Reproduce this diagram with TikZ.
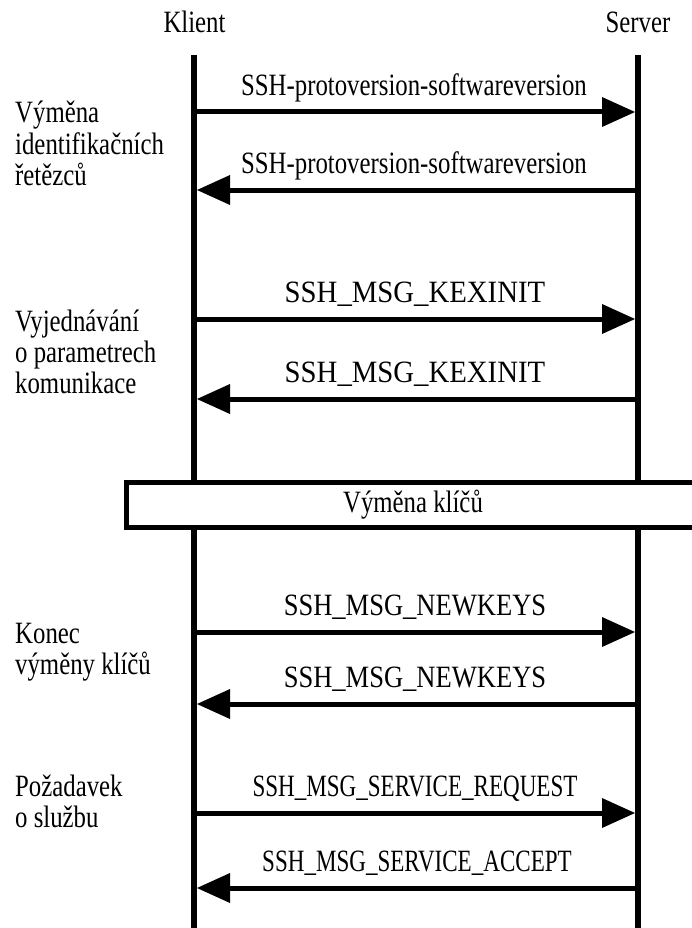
\documentclass[tikz,border=0pt]{standalone}
\usepackage{graphicx}
\usepackage{fontspec}
\setmainfont{Liberation Serif}[FakeStretch=0.8,Ligatures=NoCommon]
\usetikzlibrary{arrows.meta}
\begin{document}
\begin{tikzpicture}[x=1pt,y=-1pt,
  font=\fontsize{31}{31}\selectfont,
  life/.style={line width=6pt},
  msg/.style={line width=5pt,-{Triangle[length=33pt,width=30pt,line width=0pt]}},
  lbl/.style={anchor=base,inner sep=0pt},
  side/.style={anchor=base west,inner sep=0pt},
  head/.style={anchor=base,inner sep=0pt},
  phase/.style={draw,fill=white,line width=5pt,minimum width=574pt,minimum height=45pt,inner sep=0pt}]
\clip (0,0) rectangle (692,928);
% headers
\node[head] (klient) at (194.5,33) {Klient};
\node[head] (server) at (638,33) {Server};
% lifelines
\coordinate (ktop) at (194,55); \coordinate (kbot) at (194,932);
\coordinate (stop) at (638,55); \coordinate (sbot) at (638,932);
\draw[life] (ktop) -- (kbot);
\draw[life] (stop) -- (sbot);
% message end points
\foreach \i/\y in {1/112,2/190,3/319,4/399,5/632,6/704,7/813,8/888}{
  \coordinate (k\i) at (194,\y);
  \coordinate (kt\i) at (197,\y);
  \coordinate (s\i) at (638,\y);
  \coordinate (st\i) at (635,\y);
}
\draw[msg] (k1) -- (st1);
\draw[msg] (s2) -- (kt2);
\draw[msg] (k3) -- (st3);
\draw[msg] (s4) -- (kt4);
\draw[msg] (k5) -- (st5);
\draw[msg] (s6) -- (kt6);
\draw[msg] (k7) -- (st7);
\draw[msg] (s8) -- (kt8);
% message labels
\node[lbl] (m1) at (414,95.5) {SSH-protoversion-softwareversion};
\node[lbl] (m2) at (414,173.5) {SSH-protoversion-softwareversion};
\node[lbl] (m3) at (415,302.5) {\scalebox{1.16}[1]{SSH\_MSG\_KEXINIT}};
\node[lbl] (m4) at (415,382.5) {\scalebox{1.16}[1]{SSH\_MSG\_KEXINIT}};
\node[lbl] (m5) at (415,615.5) {\scalebox{1.07}[1]{SSH\_MSG\_NEWKEYS}};
\node[lbl] (m6) at (415,687.5) {\scalebox{1.07}[1]{SSH\_MSG\_NEWKEYS}};
\node[lbl] (m7) at (415,796.5) {\scalebox{0.93}[1]{SSH\_MSG\_SERVICE\_REQUEST}};
\node[lbl] (m8) at (417,871.5) {\scalebox{0.93}[1]{SSH\_MSG\_SERVICE\_ACCEPT}};
% key exchange box
\node[phase] (kex) at (413,504.5) {Výměna klíčů};
% side labels
\node[side] (g1) at (15,123) {\begin{tabular}[t]{@{}l@{}}Výměna\\identifikačních\\řetězců\end{tabular}};
\node[side] (g2) at (15,331) {\begin{tabular}[t]{@{}l@{}}Vyjednávání\\o parametrech\\komunikace\end{tabular}};
\node[side] (g3) at (15,643) {\begin{tabular}[t]{@{}l@{}}Konec\\výměny klíčů\end{tabular}};
\node[side] (g4) at (15,796) {\begin{tabular}[t]{@{}l@{}}Požadavek\\o službu\end{tabular}};
\end{tikzpicture}
\end{document}
